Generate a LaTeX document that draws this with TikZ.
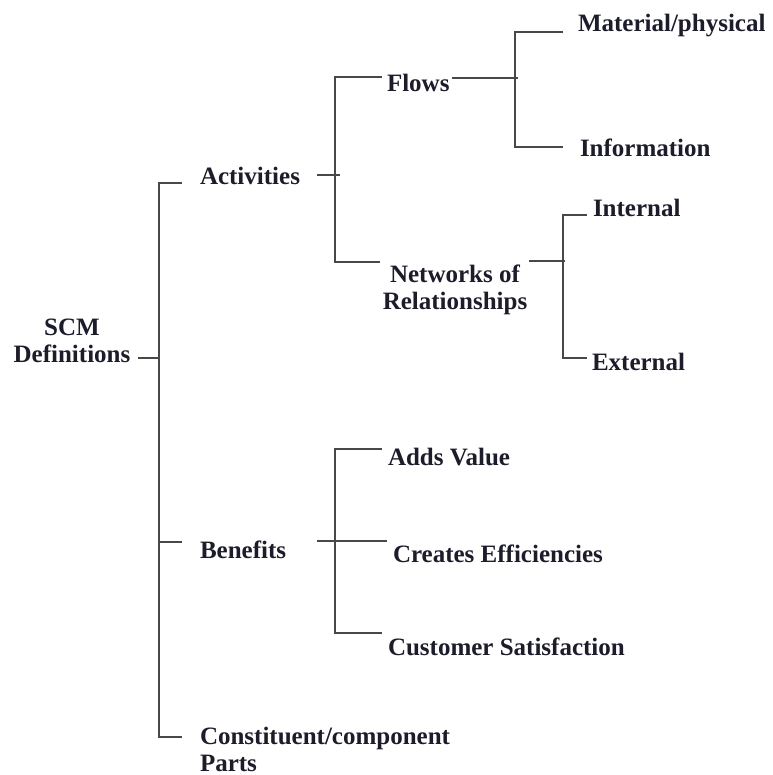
\documentclass[tikz,border=0pt]{standalone}
\usepackage{fontspec}
\setmainfont{Liberation Serif}
\definecolor{lncol}{HTML}{484848}
\definecolor{txcol}{HTML}{1C1C2A}
\begin{document}
\begin{tikzpicture}[x=1pt,y=-1pt,
  lbl/.style={inner sep=0pt,outer sep=0pt,text=txcol,font=\fontsize{25}{27}\selectfont\bfseries},
  ln/.style={draw=lncol,line width=1.8pt}]
\useasboundingbox (0,0) rectangle (772,775);
% text nodes
\node[lbl,align=center,anchor=north] (scm) at (72,319) {SCM\\Definitions};
\node[lbl,anchor=base west] (act) at (200,185) {Activities};
\node[lbl,anchor=base west] (flows) at (387,92) {Flows};
\node[lbl,anchor=base west] (mat) at (578,32) {Material/physical};
\node[lbl,anchor=base west] (info) at (580,157) {Information};
\node[lbl,align=center,anchor=north] (net) at (455,265) {Networks of\\Relationships};
\node[lbl,anchor=base west] (int) at (593,217) {Internal};
\node[lbl,anchor=base west] (ext) at (592,370) {External};
\node[lbl,anchor=base west] (ben) at (200,558) {Benefits};
\node[lbl,anchor=base west] (adds) at (388,465) {Adds Value};
\node[lbl,anchor=base west] (cre) at (393,562) {Creates Efficiencies};
\node[lbl,anchor=base west] (cust) at (388,655) {Customer Satisfaction};
\node[lbl,align=left,anchor=north west] (con) at (200,727) {Constituent/component\\Parts};
% connector end points
\coordinate (scmR) at (138,358);
\coordinate (tj) at (159,358);
\coordinate (actL) at (182,183);
\coordinate (benL) at (182,542);
\coordinate (benJ) at (159,542);
\coordinate (conL) at (182,737);
\coordinate (actR) at (317,175);
\coordinate (actX) at (340,175);
\coordinate (flowsL) at (382,77);
\coordinate (netL) at (380,262);
\coordinate (flowsR) at (452,78);
\coordinate (flowsX) at (518,78);
\coordinate (matL) at (563,32);
\coordinate (infoL) at (563,147);
\coordinate (netR) at (529,261);
\coordinate (netX) at (565,261);
\coordinate (intL) at (587,215);
\coordinate (extL) at (587,358);
\coordinate (benR) at (317,541);
\coordinate (benX) at (387,541);
\coordinate (addsL) at (382,449);
\coordinate (custL) at (382,633);
% connectors
\draw[ln] (scmR) -- (tj);
\draw[ln] (actL) -- (actL -| tj) -- (conL -| tj) -- (conL);
\draw[ln] (benJ) -- (benL);
\draw[ln] (actR) -- (actX);
\draw[ln] (flowsL) -- ++(-47,0) |- (netL);
\draw[ln] (flowsR) -- (flowsX);
\draw[ln] (matL) -- ++(-48,0) |- (infoL);
\draw[ln] (netR) -- (netX);
\draw[ln] (intL) -- ++(-24,0) |- (extL);
\draw[ln] (benR) -- (benX);
\draw[ln] (addsL) -- ++(-47,0) |- (custL);
\end{tikzpicture}
\end{document}
